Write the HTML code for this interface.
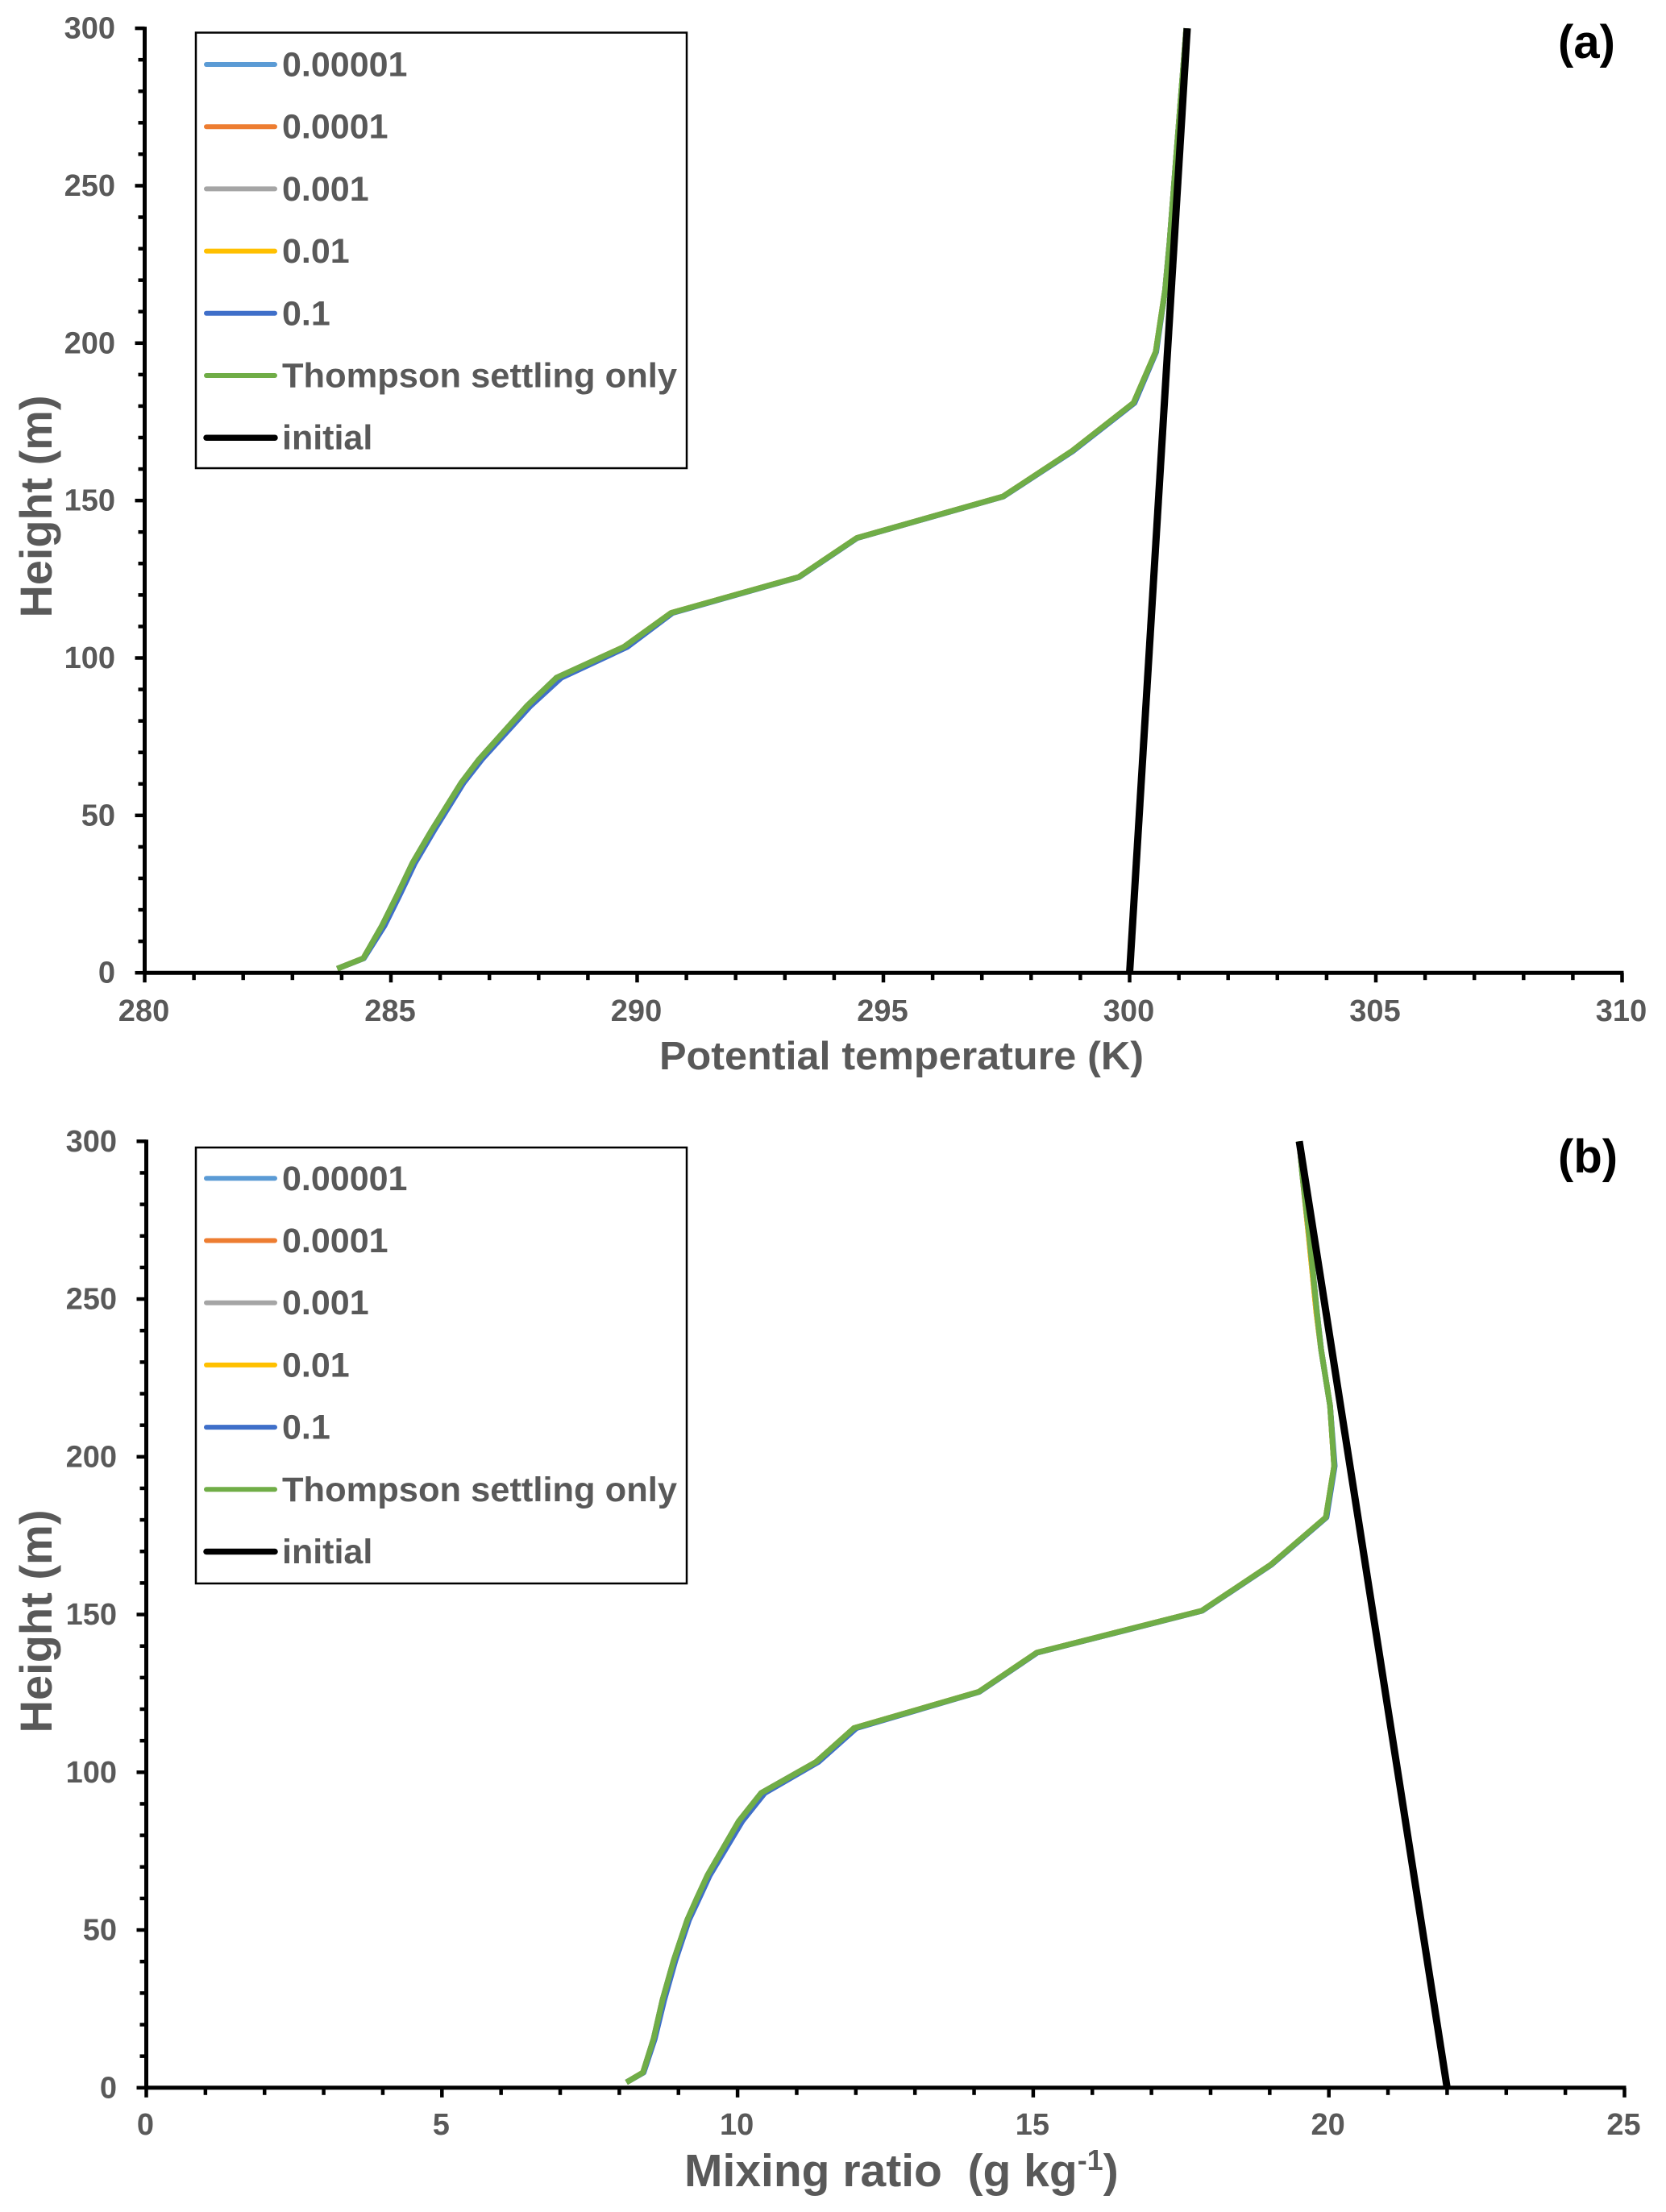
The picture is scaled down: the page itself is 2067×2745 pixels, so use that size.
<!DOCTYPE html>
<html lang="en">
<head>
<meta charset="utf-8">
<title>Potential temperature and mixing ratio profiles</title>
<style>
  html, body { margin: 0; padding: 0; background: #fff; }
  body { width: 2067px; height: 2745px; overflow: hidden; }
  svg { display: block; }
  text { font-family: "Liberation Sans", Arial, sans-serif; font-weight: 700; fill: #595959; }
</style>
</head>
<body>
<svg xmlns="http://www.w3.org/2000/svg" width="2067" height="2745" viewBox="0 0 2067 2745">
  <rect x="0" y="0" width="2067" height="2745" fill="#ffffff"></rect>
  <g id="panel-a"></g>
  <g id="panel-b"></g>
</svg>
<script>
// ---- shared labels and tick values ----
const seriesNames = ['0.00001', '0.0001', '0.001', '0.01', '0.1', 'Thompson settling only', 'initial'];
const seriesColors = ['#5B9BD5', '#ED7D31', '#A5A5A5', '#FFC000', '#3F6FC9', '#70AD47', '#000000'];
const heightTicks = [0, 50, 100, 150, 200, 250, 300];
const thetaTicks = [280, 285, 290, 295, 300, 305, 310];
const mixingTicks = [0, 5, 10, 15, 20, 25];

// ---- panel (a): potential temperature (K) ----
const heightsA = [1.3, 4.6, 15, 24.1, 34.9, 45.3, 60.4, 67.8, 84.7, 93.7, 103.5, 114.3, 125.7, 138.1, 151.3, 165.6, 181, 197.2, 216.8, 232, 258, 300];
const theta00001 = [283.91, 284.44, 284.82, 285.11, 285.44, 285.83, 286.43, 286.79, 287.76, 288.36, 289.73, 290.69, 293.28, 294.46, 297.43, 298.82, 300.08, 300.53, 300.72, 300.81, 300.94, 301.15];
const theta0001 = [283.91, 284.44, 284.82, 285.11, 285.44, 285.83, 286.43, 286.79, 287.76, 288.36, 289.73, 290.69, 293.28, 294.46, 297.43, 298.82, 300.08, 300.53, 300.72, 300.81, 300.94, 301.15];
const theta001 = [283.91, 284.44, 284.82, 285.11, 285.44, 285.83, 286.43, 286.79, 287.76, 288.36, 289.73, 290.69, 293.28, 294.46, 297.43, 298.82, 300.08, 300.53, 300.72, 300.81, 300.94, 301.15];
const theta01 = [283.91, 284.44, 284.83, 285.12, 285.45, 285.84, 286.44, 286.8, 287.77, 288.37, 289.73, 290.69, 293.28, 294.46, 297.43, 298.82, 300.08, 300.53, 300.72, 300.81, 300.94, 301.15];
const theta1 = [283.91, 284.45, 284.87, 285.16, 285.49, 285.88, 286.48, 286.85, 287.83, 288.46, 289.8, 290.72, 293.29, 294.47, 297.44, 298.84, 300.1, 300.54, 300.72, 300.81, 300.94, 301.15];
const thetaThompson = [283.91, 284.44, 284.82, 285.11, 285.44, 285.83, 286.43, 286.79, 287.76, 288.36, 289.73, 290.69, 293.28, 294.46, 297.43, 298.82, 300.08, 300.53, 300.72, 300.81, 300.94, 301.15];
const initialHeightsA = [0, 300];
const thetaInitial = [300, 301.17];

// ---- panel (b): mixing ratio (g/kg) ----
const heightsB = [1.7, 4.8, 15.5, 27.8, 40.4, 53.2, 60, 67.3, 84.5, 93.4, 103.3, 114, 125.5, 137.9, 151.2, 165.8, 180.8, 197.1, 216.2, 233.8, 245.6, 269.9, 289.6, 300];
const mix00001 = [8.12, 8.4, 8.58, 8.73, 8.92, 9.15, 9.31, 9.49, 10.02, 10.4, 11.33, 11.97, 14.08, 15.06, 17.85, 19.02, 19.95, 20.09, 20.02, 19.87, 19.8, 19.67, 19.55, 19.5];
const mix0001 = [8.12, 8.4, 8.58, 8.73, 8.92, 9.15, 9.31, 9.49, 10.02, 10.4, 11.33, 11.97, 14.08, 15.06, 17.85, 19.02, 19.95, 20.09, 20.02, 19.87, 19.79, 19.66, 19.55, 19.5];
const mix001 = [8.12, 8.4, 8.58, 8.73, 8.92, 9.15, 9.31, 9.49, 10.02, 10.4, 11.33, 11.97, 14.08, 15.06, 17.85, 19.02, 19.95, 20.09, 20.02, 19.87, 19.79, 19.66, 19.55, 19.5];
const mix01 = [8.12, 8.4, 8.59, 8.74, 8.93, 9.16, 9.32, 9.5, 10.03, 10.41, 11.33, 11.97, 14.08, 15.06, 17.85, 19.02, 19.95, 20.09, 20.02, 19.87, 19.79, 19.66, 19.55, 19.5];
const mix1 = [8.12, 8.41, 8.6, 8.76, 8.95, 9.18, 9.35, 9.53, 10.08, 10.46, 11.37, 12.01, 14.09, 15.07, 17.86, 19.03, 19.96, 20.1, 20.02, 19.87, 19.8, 19.67, 19.55, 19.5];
const mixThompson = [8.12, 8.4, 8.58, 8.73, 8.92, 9.15, 9.31, 9.49, 10.02, 10.4, 11.33, 11.97, 14.08, 15.06, 17.85, 19.02, 19.95, 20.09, 20.02, 19.87, 19.8, 19.67, 19.55, 19.5];
const initialHeightsB = [0, 300];
const mixInitial = [22, 19.5];

const NS = 'http://www.w3.org/2000/svg';

function addLine(parent, x1, y1, x2, y2, w, color, cap) {
  const l = document.createElementNS(NS, 'line');
  l.setAttribute('x1', x1);
  l.setAttribute('y1', y1);
  l.setAttribute('x2', x2);
  l.setAttribute('y2', y2);
  l.setAttribute('stroke', color);
  l.setAttribute('stroke-width', w);
  l.setAttribute('stroke-linecap', cap || 'butt');
  parent.appendChild(l);
  return l;
}

function addText(parent, str, x, y, size, anchor) {
  const t = document.createElementNS(NS, 'text');
  t.setAttribute('x', x);
  t.setAttribute('y', y);
  t.setAttribute('font-size', size);
  t.setAttribute('text-anchor', anchor || 'start');
  t.textContent = str;
  parent.appendChild(t);
  return t;
}

function addCurve(parent, xs, hs, sx, sy, color, width) {
  const p = document.createElementNS(NS, 'polyline');
  const pts = xs.map(function (v, i) { return sx(v).toFixed(1) + ',' + sy(hs[i]).toFixed(1); });
  p.setAttribute('points', pts.join(' '));
  p.setAttribute('fill', 'none');
  p.setAttribute('stroke', color);
  p.setAttribute('stroke-width', width);
  p.setAttribute('stroke-linejoin', 'round');
  parent.appendChild(p);
  return p;
}

function drawPanel(cfg) {
  const root = document.getElementById(cfg.id);
  const sx = cfg.sx;
  const sy = cfg.sy;

  // plotted series first, axes and legend after
  const curves = document.createElementNS(NS, 'g');
  
  
  root.appendChild(curves);
  cfg.series.forEach(function (vals, i) {
    const c = addCurve(curves, vals, cfg.heights, sx, sy, seriesColors[i], 7);
    
    
  });
  const ini = addCurve(curves, cfg.initial, cfg.initialHeights, sx, sy, seriesColors[6], 9);
  
  

  // axes
  const axes = document.createElementNS(NS, 'g');
  
  
  root.appendChild(axes);

  const x0 = sx(cfg.xMin);
  const x1 = sx(cfg.xMax);
  const y0 = sy(0);
  const y1 = sy(300);

  const yAxis = addLine(axes, x0, y1 - 2, x0, y0 + 2, 5, '#000');
  
  
  const xAxis = addLine(axes, x0 - 2, y0, x1 + 2, y0, 5, '#000');
  
  

  for (let h = 0; h <= 300; h += 10) {
    const major = h % 50 === 0;
    const t = addLine(axes, x0 - (major ? 12 : 8), sy(h), x0, sy(h), 4.5, '#000');
    
    
  }
  for (let v = cfg.xMin; v <= cfg.xMax; v += 1) {
    const major = (v - cfg.xMin) % 5 === 0;
    const t = addLine(axes, sx(v), y0, sx(v), y0 + (major ? 12 : 9), 4.5, '#000');
    
    
  }
  heightTicks.forEach(function (h) {
    const t = addText(axes, String(h), x0 - 36.5, sy(h) + 12.5, 38, 'end');
    
    
  });
  cfg.xTicks.forEach(function (v) {
    const t = addText(axes, String(v), sx(v) - 1, cfg.xLabelY, 38, 'middle');
    
    
  });

  // y axis title
  const yTitle = addText(axes, 'Height (m)', 0, 0, 56, 'middle');
  yTitle.setAttribute('transform', 'translate(64 ' + cfg.yTitleCenter + ') rotate(-90)');
  yTitle.setAttribute('textLength', cfg.yTitleLen);
  yTitle.setAttribute('lengthAdjust', 'spacingAndGlyphs');
  
  

  // legend
  const legend = document.createElementNS(NS, 'g');
  
  
  root.appendChild(legend);

  const box = document.createElementNS(NS, 'rect');
  box.setAttribute('x', 243);
  box.setAttribute('y', cfg.legendTop);
  box.setAttribute('width', 609);
  box.setAttribute('height', cfg.legendBottom - cfg.legendTop);
  box.setAttribute('fill', '#fff');
  box.setAttribute('stroke', '#000');
  box.setAttribute('stroke-width', 2.5);
  
  
  legend.appendChild(box);

  seriesNames.forEach(function (name, i) {
    const ly = cfg.legendFirst + i * cfg.legendStep;
    const ln = addLine(legend, 256, ly, 341, ly, i === 6 ? 7.5 : 6, seriesColors[i], 'round');
    
    
    const lt = addText(legend, name, 350, ly + 14.5, 43, 'start');
    if (i === 5) {
      lt.setAttribute('textLength', 490);
      lt.setAttribute('lengthAdjust', 'spacingAndGlyphs');
    }
    
    
  });

  // panel tag
  const tag = addText(root, cfg.tag, 1933, cfg.tagY, 58, 'start');
  tag.setAttribute('fill', '#000');
  tag.style.fill = '#000';
  
  
  return axes;
}

const axesA = drawPanel({
  id: 'panel-a',
  sx: function (v) { return 179.5 + (v - 280) * 61.1; },
  sy: function (h) { return 1207.2 - h * 3.907; },
  xMin: 280, xMax: 310,
  xTicks: thetaTicks,
  xLabelY: 1267,
  heights: heightsA,
  series: [theta00001, theta0001, theta001, theta01, theta1, thetaThompson],
  initial: thetaInitial,
  initialHeights: initialHeightsA,
  yTitleCenter: 628.5,
  yTitleLen: 276,
  legendTop: 40.5,
  legendBottom: 581,
  legendFirst: 80,
  legendStep: 77.2,
  tag: '(a)',
  tagY: 72
});

const axesB = drawPanel({
  id: 'panel-b',
  sx: function (v) { return 181.5 + v * 73.36; },
  sy: function (h) { return 2590.8 - h * 3.915; },
  xMin: 0, xMax: 25,
  xTicks: mixingTicks,
  xLabelY: 2649,
  heights: heightsB,
  series: [mix00001, mix0001, mix001, mix01, mix1, mixThompson],
  initial: mixInitial,
  initialHeights: initialHeightsB,
  yTitleCenter: 2012,
  yTitleLen: 277,
  legendTop: 1424,
  legendBottom: 1965,
  legendFirst: 1462.3,
  legendStep: 77.2,
  tag: '(b)',
  tagY: 1455
});

// x axis titles
const xTitleA = addText(axesA, 'Potential temperature (K)', 818, 1327, 49, 'start');
xTitleA.setAttribute('textLength', 601);
xTitleA.setAttribute('lengthAdjust', 'spacingAndGlyphs');



const xTitleB = addText(axesB, 'Mixing ratio\u00a0\u00a0(g kg', 849, 2713, 57, 'start');


const supPart = document.createElementNS(NS, 'tspan');
supPart.setAttribute('dy', -20);
supPart.setAttribute('font-size', 36);
supPart.textContent = '-1';
xTitleB.appendChild(supPart);
const closePart = document.createElementNS(NS, 'tspan');
closePart.setAttribute('dy', 20);
closePart.textContent = ')';
xTitleB.appendChild(closePart);
</script>
</body>
</html>
